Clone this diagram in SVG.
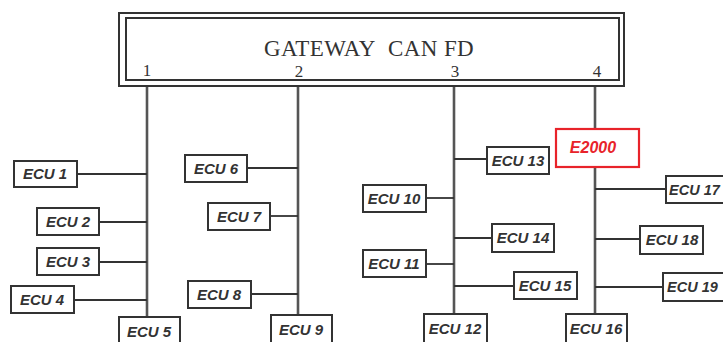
<svg xmlns="http://www.w3.org/2000/svg" width="723" height="342" viewBox="0 0 723 342">
<style>
.bg{fill:#fff}
.box{fill:#fff;stroke:#333;stroke-width:2}
.red{fill:#fff;stroke:#e8232a;stroke-width:2.2}
.lbl{font-family:"Liberation Sans",Arial,sans-serif;font-weight:bold;font-style:italic;font-size:15px;fill:#333;text-anchor:middle}
.edge{font-size:14.5px;text-anchor:start}
.rlbl{font-family:"Liberation Sans",Arial,sans-serif;font-weight:bold;font-style:italic;font-size:16px;fill:#e8232a;text-anchor:middle}
.gw{font-family:"Liberation Serif","Times New Roman",serif;font-size:23px;letter-spacing:0.4px;fill:#333;text-anchor:middle}
.num{font-family:"Liberation Serif","Times New Roman",serif;font-size:17px;fill:#333;text-anchor:middle}
.bus{stroke:#555;stroke-width:2.6;fill:none}
.br{stroke:#333;stroke-width:1.8;fill:none}
.gwr{fill:none;stroke:#333;stroke-width:2}
</style>
<rect class="bg" x="0" y="0" width="723" height="342"/>
<g id="connectors">
<line class="bus" x1="147" y1="86" x2="147" y2="317"/>
<line class="bus" x1="298" y1="86" x2="298" y2="315"/>
<line class="bus" x1="454" y1="86" x2="454" y2="314"/>
<line class="bus" x1="595" y1="86" x2="595" y2="129"/>
<line class="bus" x1="595" y1="167" x2="595" y2="314"/>
<line class="br" x1="77" y1="174" x2="147" y2="174"/>
<line class="br" x1="99" y1="222" x2="147" y2="222"/>
<line class="br" x1="99" y1="262" x2="147" y2="262"/>
<line class="br" x1="74" y1="300" x2="147" y2="300"/>
<line class="br" x1="247" y1="168" x2="298" y2="168"/>
<line class="br" x1="270" y1="216" x2="298" y2="216"/>
<line class="br" x1="251" y1="294" x2="298" y2="294"/>
<line class="br" x1="454" y1="159" x2="487" y2="159"/>
<line class="br" x1="426" y1="198" x2="454" y2="198"/>
<line class="br" x1="454" y1="238" x2="492" y2="238"/>
<line class="br" x1="426" y1="264" x2="454" y2="264"/>
<line class="br" x1="454" y1="286" x2="514" y2="286"/>
<line class="br" x1="595" y1="189" x2="666" y2="189"/>
<line class="br" x1="595" y1="239" x2="640" y2="239"/>
<line class="br" x1="595" y1="287" x2="663" y2="287"/>
</g>
<g id="gateway">
<rect class="gwr" x="119" y="13" width="505" height="73"/>
<rect class="gwr" x="126" y="18" width="493" height="62"/>
<text class="gw" x="369" y="56">GATEWAY&#160; CAN FD</text>
<text class="num" x="147" y="76">1</text>
<text class="num" x="299" y="77">2</text>
<text class="num" x="455" y="77">3</text>
<text class="num" x="597" y="77">4</text>
</g>
<g id="ecu1"><rect class="box" x="14" y="161" width="63" height="26"/><text class="lbl" x="45" y="179">ECU 1</text></g>
<g id="ecu2"><rect class="box" x="37" y="208" width="62" height="27"/><text class="lbl" x="68" y="227">ECU 2</text></g>
<g id="ecu3"><rect class="box" x="37" y="248" width="62" height="27"/><text class="lbl" x="68" y="267">ECU 3</text></g>
<g id="ecu4"><rect class="box" x="11" y="286" width="63" height="27"/><text class="lbl" x="42" y="305">ECU 4</text></g>
<g id="ecu5"><rect class="box" x="119" y="317" width="61" height="30"/><text class="lbl" x="149" y="337">ECU 5</text></g>
<g id="ecu6"><rect class="box" x="185" y="155" width="62" height="27"/><text class="lbl" x="216" y="174">ECU 6</text></g>
<g id="ecu7"><rect class="box" x="208" y="203" width="62" height="27"/><text class="lbl" x="239" y="222">ECU 7</text></g>
<g id="ecu8"><rect class="box" x="188" y="281" width="63" height="27"/><text class="lbl" x="219" y="300">ECU 8</text></g>
<g id="ecu9"><rect class="box" x="271" y="315" width="61" height="32"/><text class="lbl" x="301" y="335">ECU 9</text></g>
<g id="ecu10"><rect class="box" x="363" y="185" width="63" height="27"/><text class="lbl" x="394" y="204">ECU 10</text></g>
<g id="ecu11"><rect class="box" x="363" y="250" width="63" height="27"/><text class="lbl" x="394" y="269">ECU 11</text></g>
<g id="ecu12"><rect class="box" x="424" y="314" width="63" height="32"/><text class="lbl" x="455" y="334">ECU 12</text></g>
<g id="ecu13"><rect class="box" x="487" y="147" width="62" height="27"/><text class="lbl" x="518" y="166">ECU 13</text></g>
<g id="ecu14"><rect class="box" x="492" y="224" width="62" height="28"/><text class="lbl" x="523" y="243">ECU 14</text></g>
<g id="ecu15"><rect class="box" x="514" y="272" width="63" height="27"/><text class="lbl" x="545" y="291">ECU 15</text></g>
<g id="ecu16"><rect class="box" x="566" y="314" width="61" height="32"/><text class="lbl" x="596" y="334">ECU 16</text></g>
<g id="ecu17"><rect class="box" x="666" y="176" width="62" height="27"/><text class="lbl edge" x="669" y="195">ECU 17</text></g>
<g id="ecu18"><rect class="box" x="640" y="226" width="63" height="28"/><text class="lbl" x="672" y="245">ECU 18</text></g>
<g id="ecu19"><rect class="box" x="663" y="273" width="63" height="28"/><text class="lbl edge" x="667" y="292">ECU 19</text></g>
<g id="e2000"><rect class="red" x="556" y="129" width="83" height="38"/><text class="rlbl" x="593" y="153">E2000</text></g>
</svg>
